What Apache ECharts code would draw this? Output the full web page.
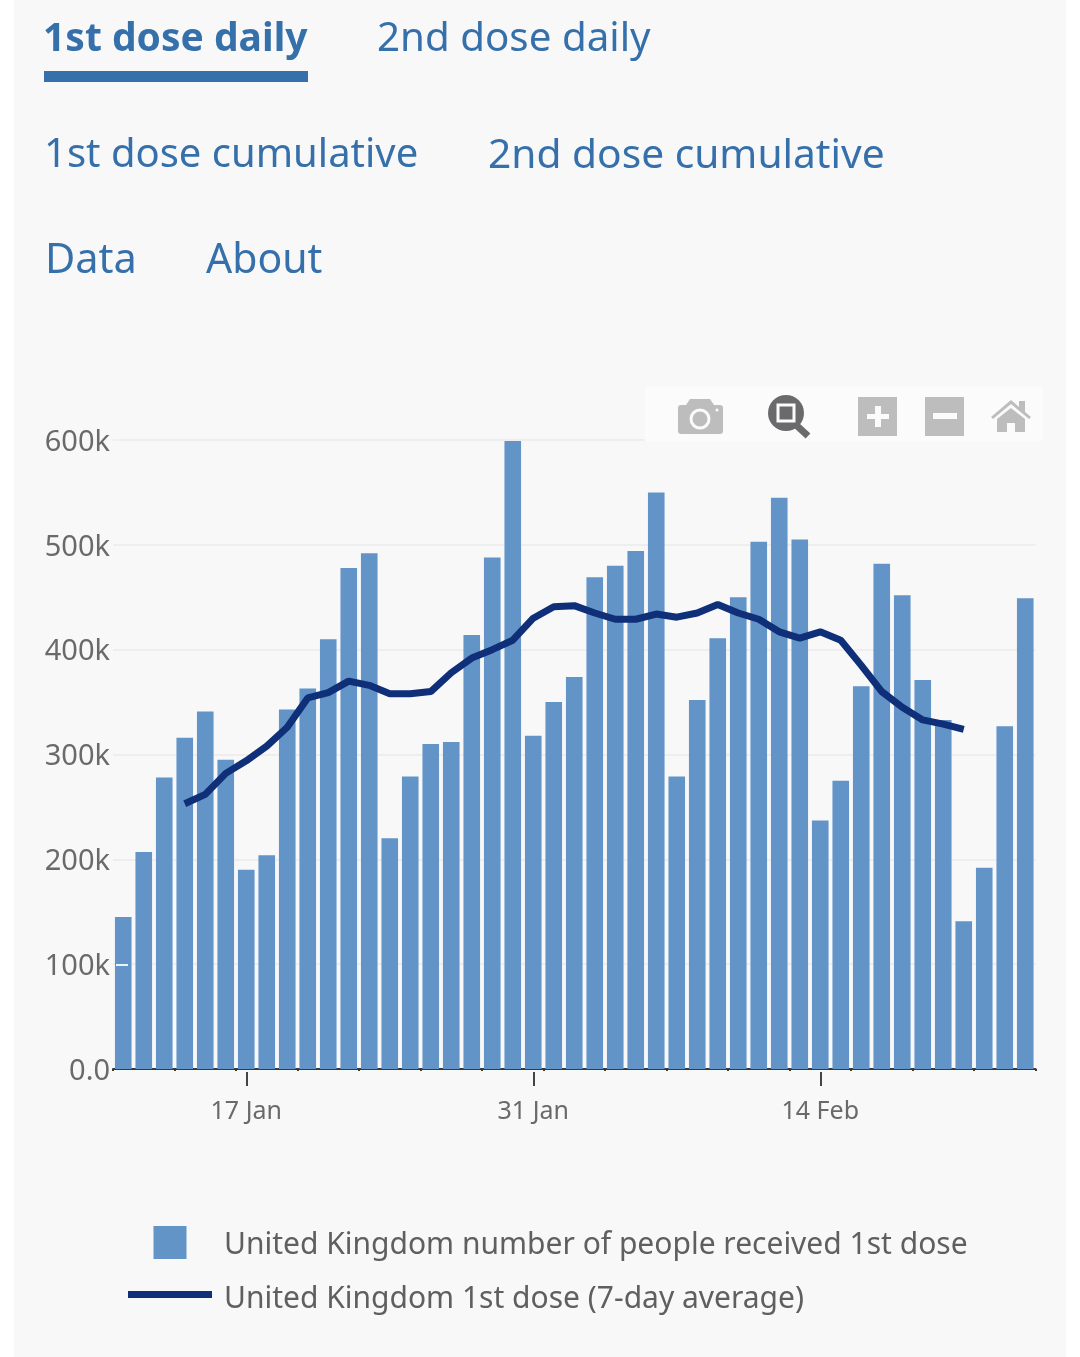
<!DOCTYPE html>
<html><head><meta charset="utf-8">
<style>html,body{margin:0;padding:0;background:#fff}#c{width:1080px;height:1357px}</style>
<script src="https://cdn.jsdelivr.net/npm/echarts@6/dist/echarts.min.js"></script>
</head><body><div id="c"></div>
<script>
const firstDate = new Date(Date.UTC(2021,0,11));
const months = ['Jan','Feb','Mar'];
const categories = Array.from({length:45},(_,i)=>{const d=new Date(firstDate.getTime()+i*864e5);return d.getUTCDate()+' '+months[d.getUTCMonth()];});
const tickLabels = ['17 Jan','31 Jan','14 Feb'];
const yTickLabels = ['0.0','100k','200k','300k','400k','500k','600k'];
const dailyFirstDose = [145,207,278,316,341,295,190,204,343,363,410,478,492,220,279,310,312,414,488,599,318,350,374,469,480,494,550,279,352,411,450,503,545,505,237,275,365,482,452,371,333,141,192,327,449].map(v=>v*1000);
const avg7Day = [null,null,null,253,262,282,294,308,326,354,359,370,366,358,358,360,378,392,400,409,430,441,442,435,429,429,434,431,435,443,435,429,417,411,417,409,385,360,345,333,329,324,null,null,null].map(v=>v===null?null:v*1000);
const barName='United Kingdom number of people received 1st dose';
const lineName='United Kingdom 1st dose (7-day average)';
const FONT='"Noto Sans"';
const BLUE='#3670ab';
const BG2='#fbfbfc';
const G='#bdbdbe';
const DK='#6a6a6c';
function tab(x,y,t,w,s){return {type:'text',x:x,y:y,z:10,style:{text:t,fill:BLUE,font:(w||'400')+' '+(s||40)+'px '+FONT,textVerticalAlign:'middle'}};}
function poly(pts,fill,z){return {type:'polygon',z:z||21,shape:{points:pts},style:{fill:fill}};}
function box(x,y,w,h,fill,z,r){return {type:'rect',z:z||21,shape:{x:x,y:y,width:w,height:h,r:r||0},style:{fill:fill}};}
const legendRich={color:'#5f5f5f',fontSize:30,fontFamily:FONT};
const chart=echarts.init(document.getElementById('c'),null,{renderer:'canvas'});
chart.setOption({
 animation:false,
 backgroundColor:'#fff',
 textStyle:{fontFamily:FONT},
 grid:{left:113,top:440,width:922.5,height:629,containLabel:false},
 legend:{orient:'vertical',left:128,top:1226,padding:0,itemWidth:84,itemHeight:33,itemGap:24,
  formatter:(n)=>(n===barName?'{a|':'{b|')+n+'}',
  textStyle:{color:'#5f5f5f',fontSize:30,fontFamily:FONT,
    rich:{a:Object.assign({padding:[6,0,0,7]},legendRich),b:Object.assign({padding:[10,0,0,7]},legendRich)}},
  data:[{name:barName,icon:'path://M0 0H33V33H0Z'},{name:lineName,icon:'path://M0 0H84V7H0Z',itemStyle:{color:'#0f2f78'}}]},
 xAxis:[
  {type:'category',data:categories,position:'bottom',
   axisLine:{lineStyle:{color:'#3a3a3a',width:2}},
   axisTick:{show:true,length:2,inside:false,lineStyle:{color:'#3a3a3a',width:2}},
   axisLabel:{show:false}},
  {type:'category',data:categories,position:'bottom',offset:3,
   axisLine:{show:false},
   axisTick:{show:true,alignWithLabel:true,length:14,lineStyle:{color:'#444',width:2},
     interval:(i,v)=>tickLabels.includes(v)},
   axisLabel:{color:'#6a6a6a',fontSize:25,margin:27,fontFamily:FONT,
     interval:(i,v)=>tickLabels.includes(v)}}
 ],
 yAxis:{type:'value',min:0,max:600000,interval:100000,
  axisLine:{show:false},axisTick:{show:false},
  splitLine:{lineStyle:{color:'#eeeeee',width:2}},
  axisLabel:{margin:3,formatter:(v)=>'{t|'+yTickLabels[v/100000]+'}',
    rich:{t:{color:'#6a6a6a',fontSize:29,fontFamily:FONT,padding:[5,0,0,0]}}}},
 series:[
  {name:barName,type:'bar',data:dailyFirstDose,barCategoryGap:'19%',itemStyle:{color:'#6394c8'}},
  {name:lineName,type:'line',data:avg7Day,showSymbol:false,symbol:'none',connectNulls:false,z:5,
   itemStyle:{color:'#0f2f78'},lineStyle:{color:'#0f2f78',width:7}}
 ],
 graphic:[
  {type:'rect',z:-10,silent:true,shape:{x:14,y:0,width:1052,height:1357},style:{fill:'#f8f8f9'}},
  tab(43,40,'1st dose daily','700',39),
  box(44,71,264,11,BLUE,10),
  tab(377,40,'2nd dose daily','400',40.3),
  tab(44,156,'1st dose cumulative'),
  tab(488,156,'2nd dose cumulative','400',40.7),
  tab(45,261,'Data','400',41.5),
  tab(206,261,'About','400',41),
  box(116,964,12,2,'#eaf2fa',12),
  box(645,387,398,54,BG2,20),
  box(678,405,45,29,G,21,3),
  poly([[686,405],[690,399],[710,399],[714,405]],G),
  {type:'circle',z:22,shape:{cx:700,cy:419,r:9},style:{fill:G,stroke:BG2,lineWidth:3}},
  {type:'circle',z:22,shape:{cx:717,cy:410,r:1.5},style:{fill:BG2}},
  {type:'line',z:21,shape:{x1:795,y1:424,x2:808,y2:436},style:{stroke:DK,lineWidth:7}},
  {type:'circle',z:21,shape:{cx:786,cy:413,r:18},style:{fill:DK}},
  {type:'rect',z:22,shape:{x:778,y:405,width:16,height:16},style:{fill:DK,stroke:BG2,lineWidth:3}},
  box(858,397,39,39,G),
  box(867,414,22,5,BG2,22),
  box(875,406,6,21,BG2,22),
  box(925,397,39,39,G),
  box(933,413,24,6,BG2,22),
  poly([[991,417],[1011,400],[1019,407],[1019,401],[1025,401],[1025,412],[1031,417],[1029,419],[1011,404],[993,419]],G),
  poly([[997,419],[1011,408],[1025,419],[1025,432],[997,432]],G),
  box(1007,423,8,9,BG2,22)
 ]
});
</script></body></html>
